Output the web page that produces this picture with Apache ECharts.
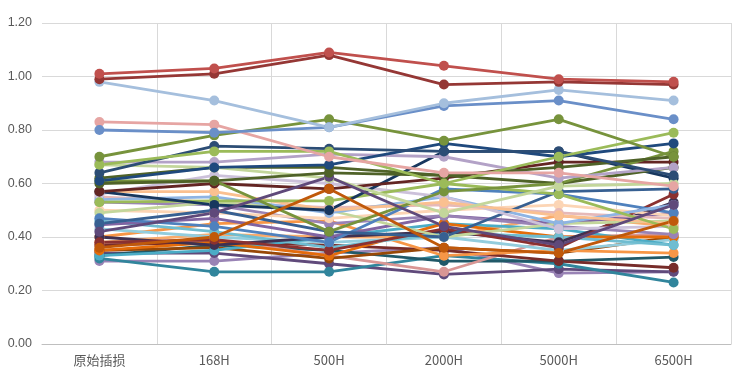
<!DOCTYPE html>
<html><head><meta charset="utf-8">
<script src="https://cdn.jsdelivr.net/npm/echarts@6/dist/echarts.min.js"></script>
<style>html,body{margin:0;padding:0;background:#fff}#c{width:747px;height:391px}</style>
</head><body><div id="c"></div>
<script>
var categories = ['原始插损', '168H', '500H', '2000H', '5000H', '6500H'];
var yTicks = [0, 0.2, 0.4, 0.6, 0.8, 1.0, 1.2];

var s01 = [0.31, 0.31, 0.34, 0.36, 0.265, 0.27];
var s02 = [0.34, 0.34, 0.30, 0.26, 0.28, 0.27];
var s03 = [0.32, 0.27, 0.27, 0.33, 0.30, 0.23];
var s04 = [0.33, 0.37, 0.35, 0.31, 0.31, 0.325];
var s05 = [0.37, 0.39, 0.33, 0.27, 0.40, 0.41];
var s06 = [0.37, 0.38, 0.37, 0.35, 0.31, 0.285];
var s07 = [0.35, 0.36, 0.32, 0.36, 0.34, 0.40];
var s08 = [0.40, 0.45, 0.46, 0.33, 0.35, 0.34];
var s09 = [0.38, 0.41, 0.40, 0.40, 0.48, 0.44];
var s10 = [0.43, 0.40, 0.38, 0.40, 0.35, 0.39];
var s11 = [0.33, 0.35, 0.40, 0.45, 0.43, 0.37];
var s12 = [0.35, 0.38, 0.33, 0.45, 0.40, 0.40];
var s13 = [0.46, 0.42, 0.36, 0.415, 0.40, 0.37];
var s14 = [0.40, 0.37, 0.40, 0.42, 0.38, 0.53];
var s15 = [0.38, 0.39, 0.35, 0.43, 0.36, 0.56];
var s16 = [0.445, 0.47, 0.40, 0.48, 0.45, 0.49];
var s17 = [0.53, 0.52, 0.45, 0.48, 0.44, 0.41];
var s18 = [0.50, 0.49, 0.47, 0.50, 0.52, 0.48];
var s19 = [0.55, 0.53, 0.51, 0.52, 0.49, 0.47];
var s20 = [0.49, 0.53, 0.50, 0.40, 0.45, 0.46];
var s21 = [0.47, 0.44, 0.38, 0.58, 0.56, 0.49];
var s22 = [0.54, 0.55, 0.49, 0.55, 0.45, 0.52];
var s23 = [0.45, 0.50, 0.42, 0.40, 0.57, 0.58];
var s24 = [0.56, 0.63, 0.60, 0.55, 0.43, 0.44];
var s25 = [0.57, 0.57, 0.50, 0.53, 0.48, 0.45];
var s26 = [0.53, 0.535, 0.535, 0.60, 0.56, 0.43];
var s27 = [0.57, 0.52, 0.50, 0.72, 0.72, 0.62];
var s28 = [0.57, 0.60, 0.58, 0.62, 0.68, 0.68];
var s29 = [0.62, 0.66, 0.66, 0.63, 0.60, 0.66];
var s30 = [0.61, 0.61, 0.42, 0.57, 0.60, 0.72];
var s31 = [0.67, 0.66, 0.62, 0.49, 0.59, 0.60];
var s32 = [0.68, 0.68, 0.71, 0.70, 0.62, 0.66];
var s33 = [0.42, 0.49, 0.625, 0.44, 0.37, 0.52];
var s34 = [0.36, 0.40, 0.58, 0.36, 0.34, 0.46];
var s35 = [0.60, 0.61, 0.64, 0.63, 0.66, 0.70];
var s36 = [0.61, 0.66, 0.67, 0.75, 0.70, 0.75];
var s37 = [0.64, 0.74, 0.73, 0.72, 0.72, 0.63];
var s38 = [0.67, 0.72, 0.72, 0.60, 0.70, 0.79];
var s39 = [0.70, 0.78, 0.84, 0.76, 0.84, 0.70];
var s40 = [0.83, 0.82, 0.70, 0.64, 0.64, 0.59];
var s41 = [0.80, 0.79, 0.81, 0.89, 0.91, 0.84];
var s42 = [0.98, 0.91, 0.81, 0.90, 0.95, 0.91];
var s43 = [0.99, 1.01, 1.08, 0.97, 0.98, 0.97];
var s44 = [1.01, 1.03, 1.09, 1.04, 0.99, 0.98];

var seriesData = [s01,s02,s03,s04,s05,s06,s07,s08,s09,s10,s11,s12,s13,s14,s15,s16,s17,s18,s19,s20,s21,s22,s23,s24,s25,s26,s27,s28,s29,s30,s31,s32,s33,s34,s35,s36,s37,s38,s39,s40,s41,s42,s43,s44];
var colors = ['#9983B5','#604A7B','#31859C','#215968','#D99694','#772C2A','#984807','#F79646','#F9AB6B','#93CDDD','#4BACC6','#E46C0A','#6FBDD1','#3F3151','#8B3130','#8064A2','#9983B5','#FCD5B5','#E6B9B8','#C3D69B','#4F81BD','#8EB4E3','#376092','#CCC1DA','#FAC090','#9BBB59','#17375E','#632523','#4F6228','#77933C','#C3D69B','#B3A2C7','#5F497A','#C0590A','#4F6228','#1F497D','#2C4D75','#9BBB59','#77933C','#E6A5A3','#6A8FC8','#A5BFDD','#953735','#C0504D'];

var series = seriesData.map(function (d, i) {
  return {
    type: 'line', data: d, symbol: 'circle', symbolSize: 10,
    itemStyle: { color: colors[i] },
    lineStyle: { width: 2.8, color: colors[i] },
    emphasis: { disabled: true }, animation: false
  };
});

var chart = echarts.init(document.getElementById('c'), null, { renderer: 'canvas' });
chart.setOption({
  animation: false,
  grid: { left: 42, right: 16, top: 23, bottom: 47, containLabel: false },
  xAxis: {
    type: 'category', data: categories, boundaryGap: true,
    axisLine: { show: true, lineStyle: { color: '#BFBFBF', width: 1 } },
    axisTick: { show: false },
    splitLine: { show: true, interval: function (idx) { return idx !== 0; }, lineStyle: { color: '#D9D9D9', width: 1 } },
    axisLabel: { color: '#595959', fontSize: 13, margin: 10, fontFamily: 'Noto Sans CJK SC, sans-serif' }
  },
  yAxis: {
    type: 'value', min: yTicks[0], max: yTicks[yTicks.length - 1], interval: 0.2,
    axisLine: { show: false }, axisTick: { show: false },
    splitLine: { lineStyle: { color: '#D9D9D9', width: 1 } },
    axisLabel: { color: '#595959', fontSize: 12.5, margin: 10, fontFamily: 'Liberation Sans, sans-serif',
      formatter: function (v) { return v.toFixed(2); } }
  },
  series: series
});
</script></body></html>
